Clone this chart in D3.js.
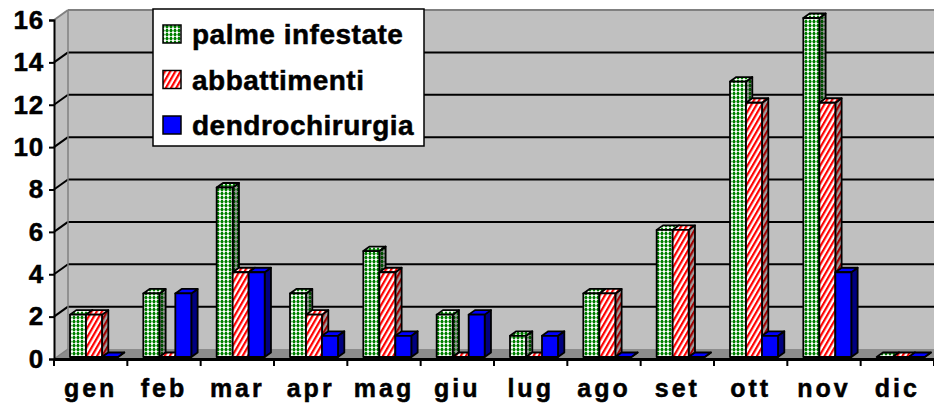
<!DOCTYPE html>
<html>
<head>
<meta charset="utf-8">
<script src="https://cdn.jsdelivr.net/npm/d3@7"></script>
<style>
  body { margin: 0; background: #fff; }
  svg text { font-family: "Liberation Sans", Arial, sans-serif; font-weight: bold; fill: #000;
             stroke: #000; stroke-width: 0.5px; }
</style>
</head>
<body>
<div id="chart"></div>
<script>
  var months = ['gen','feb','mar','apr','mag','giu','lug','ago','set','ott','nov','dic'];
  var seriesNames = ['palme infestate','abbattimenti','dendrochirurgia'];
  var palme = [2, 3, 8, 3, 5, 2, 1, 3, 6, 13, 16, 0];
  var abbattimenti = [2, 0, 4, 2, 4, 0, 0, 3, 6, 12, 12, 0];
  var dendro = [0, 3, 4, 1, 1, 2, 1, 0, 0, 1, 4, 0];
  var yTicks = [0, 2, 4, 6, 8, 10, 12, 14, 16];

  var width = 934, height = 406;
  var plotLeft = 54, plotRight = 934, plotBase = 359, plotTop = 20;
  var depth = {x: 14, y: -10};          // front -> back wall
  var barFront = 0.2, barBack = 0.65;    // bar position inside the depth

  var svg = d3.select('#chart').append('svg')
      .attr('width', width).attr('height', height);

  var x = d3.scaleBand().domain(months).range([plotLeft, plotRight]);
  var xs = d3.scaleBand().domain(seriesNames).range([16, 64]);
  var y = d3.scaleLinear().domain([0, 16]).range([plotBase, plotTop]);

  var defs = svg.append('defs');

  function dotPattern(id, bg, fg){
    var p = defs.append('pattern').attr('id', id)
        .attr('patternUnits', 'userSpaceOnUse').attr('width', 4).attr('height', 4);
    p.append('rect').attr('width', 4).attr('height', 4).attr('fill', bg);
    p.append('rect').attr('x', 1).attr('y', 0).attr('width', 2).attr('height', 3.3).attr('fill', fg);
    p.append('rect').attr('x', 0.4).attr('y', 0.8).attr('width', 3.2).attr('height', 1.6).attr('fill', fg);
  }
  function stripePattern(id, bg, fg){
    var p = defs.append('pattern').attr('id', id)
        .attr('patternUnits', 'userSpaceOnUse').attr('width', 4.5).attr('height', 10)
        .attr('patternTransform', 'rotate(30)');
    p.append('rect').attr('width', 4.5).attr('height', 10).attr('fill', bg);
    p.append('rect').attr('width', 2.2).attr('height', 10).attr('fill', fg);
  }
  dotPattern('greenFront', '#ffffff', '#008000');
  dotPattern('greenSide', '#9a9a9a', '#005000');
  stripePattern('redFront', '#ffffff', '#ff0000');
  stripePattern('redSide', '#a0a0a0', '#a00000');

  var fills = [
    {front: 'url(#greenFront)', side: 'url(#greenSide)', top: 'url(#greenFront)'},
    {front: 'url(#redFront)', side: 'url(#redSide)', top: 'url(#redFront)'},
    {front: '#0000ff', side: '#000080', top: '#0000ff'}
  ];

  // walls
  var wx = plotLeft + depth.x, wTop = y(16) + depth.y, wBase = plotBase + depth.y;
  svg.append('rect').attr('x', wx).attr('y', wTop)
     .attr('width', plotRight - wx).attr('height', wBase - wTop).attr('fill', '#c0c0c0');
  svg.append('polygon')
     .attr('points', [[plotLeft, y(16)], [wx, wTop], [wx, wBase], [plotLeft, plotBase]].join(' '))
     .attr('fill', '#c0c0c0');
  svg.append('polygon')
     .attr('points', [[plotLeft, plotBase], [wx, wBase], [plotRight, wBase], [plotRight, plotBase]].join(' '))
     .attr('fill', '#8c8c8c');

  // gridlines
  var grid = svg.append('g');
  yTicks.filter(d => d > 0).forEach(function(d){
    var c = d === 16 ? '#808080' : '#000';
    grid.append('line').attr('x1', wx).attr('x2', plotRight)
        .attr('y1', y(d) + depth.y).attr('y2', y(d) + depth.y)
        .attr('stroke', c).attr('stroke-width', 2);
    grid.append('line').attr('x1', plotLeft).attr('x2', wx)
        .attr('y1', y(d)).attr('y2', y(d) + depth.y)
        .attr('stroke', c).attr('stroke-width', 2);
  });
  grid.append('line').attr('x1', wx).attr('x2', wx).attr('y1', wTop).attr('y2', wBase)
      .attr('stroke', '#808080').attr('stroke-width', 1.5);
  grid.append('line').attr('x1', plotLeft).attr('x2', wx).attr('y1', plotBase).attr('y2', wBase)
      .attr('stroke', '#808080').attr('stroke-width', 1.5);

  // bars
  var series = [palme, abbattimenti, dendro];
  var fdy = depth.y * barFront;
  var bdx = depth.x * (barBack - barFront), bdy = depth.y * (barBack - barFront);
  var bw = xs.bandwidth();
  var bars = svg.append('g').attr('stroke', '#000').attr('stroke-width', 1.8)
      .attr('stroke-linejoin', 'round');

  months.forEach(function(m, i){
    series.forEach(function(vals, s){
      var x0 = x(m) + xs(seriesNames[s]);
      var y0 = plotBase + fdy, y1 = y(vals[i]) + fdy;
      var g = bars.append('g');
      g.append('polygon')
       .attr('points', [[x0 + bw, y1], [x0 + bw + bdx, y1 + bdy], [x0 + bw + bdx, y0 + bdy], [x0 + bw, y0]].join(' '))
       .attr('fill', fills[s].side);
      g.append('polygon')
       .attr('points', [[x0, y1], [x0 + bdx, y1 + bdy], [x0 + bw + bdx, y1 + bdy], [x0 + bw, y1]].join(' '))
       .attr('fill', fills[s].top);
      if (vals[i] > 0) {
        g.append('rect').attr('x', x0).attr('y', y1)
         .attr('width', bw).attr('height', y0 - y1).attr('fill', fills[s].front);
      }
    });
  });

  // y axis
  var yAxis = svg.append('g').attr('transform', 'translate(' + plotLeft + ',0)')
      .call(d3.axisLeft(y).tickValues(yTicks).tickSize(5).tickPadding(8).tickFormat(d3.format('d')));
  yAxis.select('.domain').attr('stroke', '#000').attr('stroke-width', 2);
  yAxis.selectAll('.tick line').attr('stroke', '#000').attr('stroke-width', 2);
  yAxis.selectAll('.tick text').attr('font-size', 26).attr('letter-spacing', 0.8)
      .attr('font-family', null).attr('x', -10);

  // x axis
  var xAxis = svg.append('g').attr('transform', 'translate(0,' + plotBase + ')')
      .call(d3.axisBottom(x).tickSize(0).tickPadding(20));
  xAxis.select('.domain').attr('stroke', '#000').attr('stroke-width', 3);
  xAxis.selectAll('.tick text').attr('font-size', 25).attr('letter-spacing', 3)
      .attr('font-family', null);
  xAxis.selectAll('.bound').data(months.concat(['end'])).enter().append('line')
      .attr('class', 'bound')
      .attr('x1', (d, i) => plotLeft + i * x.step()).attr('x2', (d, i) => plotLeft + i * x.step())
      .attr('y1', 0).attr('y2', 7).attr('stroke', '#000').attr('stroke-width', 2);

  // legend
  var legend = svg.append('g').attr('transform', 'translate(153,9)');
  legend.append('rect').attr('width', 271).attr('height', 137)
      .attr('fill', '#fff').attr('stroke', '#000').attr('stroke-width', 1.5);
  seriesNames.forEach(function(name, s){
    var cy = 25 + s * 45.5;
    legend.append('rect').attr('x', 10).attr('y', cy - 9).attr('width', 18).attr('height', 18)
        .attr('fill', fills[s].front).attr('stroke', '#000').attr('stroke-width', 1.5);
    legend.append('text').attr('x', 39).attr('y', cy + 10)
        .attr('font-size', 28).attr('letter-spacing', 0.5).text(name);
  });
</script>
</body>
</html>
